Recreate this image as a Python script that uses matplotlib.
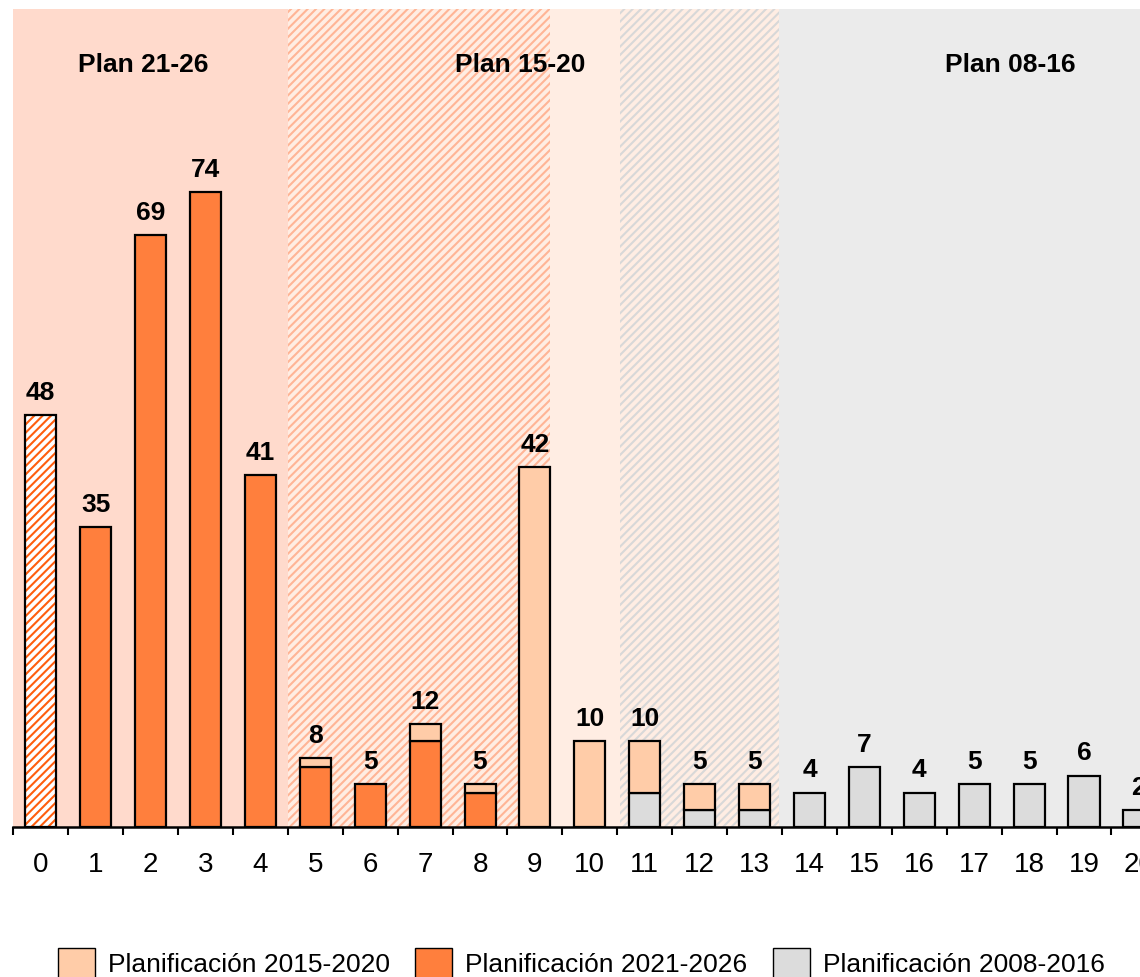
import matplotlib
matplotlib.use("Agg")
import matplotlib.pyplot as plt
from matplotlib.patches import Patch
import numpy as np

plt.rcParams['font.family'] = ['Liberation Sans', 'DejaVu Sans']
plt.rcParams['hatch.linewidth'] = 1.5

categories = list(range(21))
plan_hatched = [48] + [0] * 20
plan_2126 = [0, 35, 69, 74, 41, 7, 5, 10, 4, 0, 0, 0, 0, 0, 0, 0, 0, 0, 0, 0, 0]
plan_1520 = [0, 0, 0, 0, 0, 1, 0, 2, 1, 42, 10, 6, 3, 3, 0, 0, 0, 0, 0, 0, 0]
plan_0816 = [0, 0, 0, 0, 0, 0, 0, 0, 0, 0, 0, 4, 2, 2, 4, 7, 4, 5, 5, 6, 2]
headers = ["Plan 21-26", "Plan 15-20", "Plan 08-16"]
header_x = [1.86, 8.73, 17.65]
legend_labels = ["Planificación 2015-2020", "Planificación 2021-2026", "Planificación 2008-2016"]

c_orange = '#FF7F3D'
c_light = '#FFCCA8'
c_gray = '#DCDCDC'

fig = plt.figure(figsize=(11.4, 9.77), dpi=100)
ax = fig.add_axes([13.3 / 1140, 150 / 977, (1140 - 13.3) / 1140, 818 / 977])

x = np.array(categories)
a_h = np.array(plan_hatched)
a_o = np.array(plan_2126)
a_l = np.array(plan_1520)
a_g = np.array(plan_0816)
W = 0.565

xmin, xmax = -0.5, 20.02

# background regions
ax.axvspan(xmin - 1, 4.5, facecolor='#FFDACC', linewidth=0, zorder=0)
ax.axvspan(4.5, 9.28, facecolor='#FFEDE3', edgecolor='#FFB596', hatch='////', linewidth=0, zorder=0)
ax.axvspan(9.28, 10.55, facecolor='#FFEDE3', linewidth=0, zorder=0)
ax.axvspan(10.55, 13.45, facecolor='#FFEDE3', edgecolor='#D8D8D8', hatch='////', linewidth=0, zorder=0)
ax.axvspan(13.45, xmax + 1, facecolor='#EBEBEB', linewidth=0, zorder=0)

ekw = dict(edgecolor='black', linewidth=1.6, zorder=3)
# hatched bar
m = a_h > 0
ax.bar(x[m], a_h[m], W, facecolor='white', edgecolor='#FF5E0E', hatch='////', linewidth=0, zorder=3)
ax.bar(x[m], a_h[m], W, facecolor='none', edgecolor='black', linewidth=1.6, zorder=4)

m = a_g > 0
ax.bar(x[m], a_g[m], W, color=c_gray, **ekw)
m = a_o > 0
ax.bar(x[m], a_o[m], W, bottom=a_g[m], color=c_orange, **ekw)
m = a_l > 0
ax.bar(x[m], a_l[m], W, bottom=(a_g + a_o)[m], color=c_light, **ekw)

totals = a_h + a_o + a_l + a_g
for xi, t in zip(x, totals):
    ax.text(xi, t + 1.2, f"{t}", ha='center', va='bottom', fontsize=19, fontweight='bold', zorder=5)

for hx, h in zip(header_x, headers):
    ax.text(hx, 88.9, h, ha='center', va='center', fontsize=19, fontweight='bold', zorder=5)

for s in ['top', 'right', 'left']:
    ax.spines[s].set_visible(False)
ax.spines['bottom'].set_linewidth(1.8)
ax.spines['bottom'].set_zorder(6)
ax.set_yticks([])
ax.set_xticks(np.arange(-0.5, 21, 1.0))
ax.set_xticklabels([])
ax.set_xticks(x, minor=True)
ax.set_xticklabels([str(c) for c in categories], minor=True)
ax.tick_params(axis='x', which='major', length=5.5, width=1.5, direction='out')
ax.tick_params(axis='x', which='minor', length=0, pad=18, labelsize=20)

ax.set_xlim(xmin, xmax)
ax.set_ylim(0, 95.4)

handles = [Patch(facecolor=c_light, edgecolor='black', linewidth=1.0),
           Patch(facecolor=c_orange, edgecolor='black', linewidth=1.0),
           Patch(facecolor=c_gray, edgecolor='black', linewidth=1.0)]
fig.legend(handles, legend_labels, loc='center', bbox_to_anchor=(0.510, 0.0143), ncol=3,
           frameon=False, fontsize=19, handlelength=1.4, handleheight=1.4,
           handletextpad=0.5, columnspacing=0.95, borderaxespad=0, borderpad=0)

fig.savefig('out.png', dpi=100)
